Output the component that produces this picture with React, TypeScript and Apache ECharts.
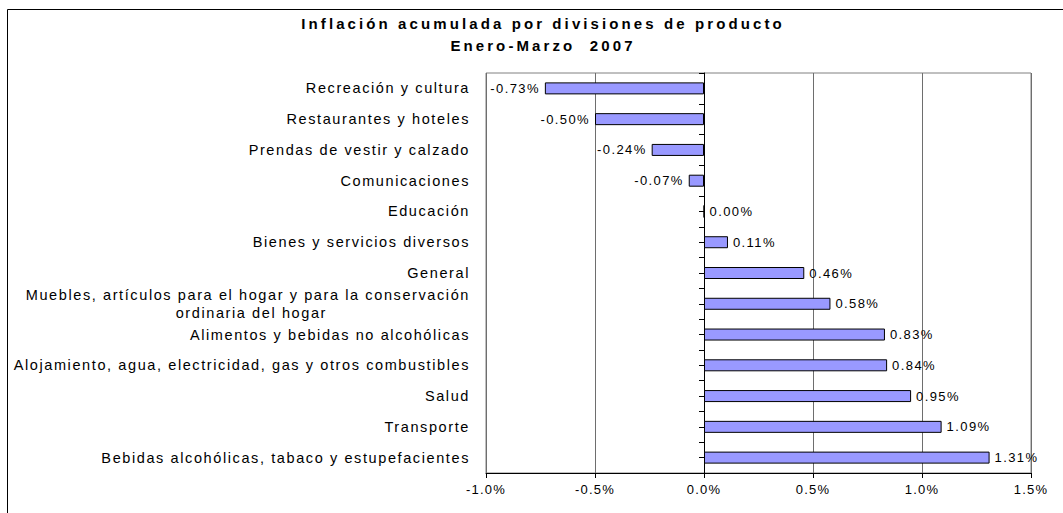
import React, { useEffect, useRef } from "react";
import * as echarts from "echarts";

const FONT = "'Liberation Sans', Arial, sans-serif";

const titleLines = ["Inflación acumulada por divisiones de producto", "Enero-Marzo  2007"];

const MUEBLES = "Muebles, artículos para el hogar y para la conservación ordinaria del hogar";

const categories = [
  "Recreación y cultura",
  "Restaurantes y hoteles",
  "Prendas de vestir y calzado",
  "Comunicaciones",
  "Educación",
  "Bienes y servicios diversos",
  "General",
  MUEBLES,
  "Alimentos y bebidas no alcohólicas",
  "Alojamiento, agua, electricidad, gas y otros combustibles",
  "Salud",
  "Transporte",
  "Bebidas alcohólicas, tabaco y estupefacientes",
];

const values = [-0.73, -0.5, -0.24, -0.07, 0.0, 0.11, 0.46, 0.58, 0.83, 0.84, 0.95, 1.09, 1.31];

const xMin = -1.0;
const xMax = 1.5;
const xStep = 0.5;

function applySpacing(el: HTMLElement) {
  el.querySelectorAll("text").forEach((t) => {
    const s = (t.textContent || "").trim();
    let ls = 1.6;
    if (s.startsWith("Inflación") || s.startsWith("Enero")) ls = 3.1;
    else if (/^-?\d\.\d\d%$/.test(s)) ls = 1.4;
    else if (/^-?\d\.\d%$/.test(s)) ls = 1.2;
    t.setAttribute("letter-spacing", ls + "px");
  });
}

export default function App() {
  const ref = useRef<HTMLDivElement>(null);

  useEffect(() => {
    const el = ref.current!;
    const chart = echarts.init(el, null, { renderer: "svg" });

    const tickAxisBase = {
      type: "category",
      data: categories,
      inverse: true,
      position: "left",
      offset: -218,
      axisLabel: { show: false },
      splitLine: { show: false },
    };

    chart.setOption({
      animation: false,
      graphic: [
        {
          type: "rect",
          shape: { x: 7.5, y: 9.5, width: 1100, height: 600 },
          style: { fill: "none", stroke: "#000", lineWidth: 1 },
          silent: true,
        },
        {
          type: "text",
          x: 543,
          y: 23,
          style: {
            text: titleLines[0],
            fontFamily: FONT,
            fontSize: 15,
            fontWeight: "bold",
            fill: "#000",
            align: "center",
            verticalAlign: "middle",
          },
        },
        {
          type: "text",
          x: 543,
          y: 45,
          style: {
            text: titleLines[1],
            fontFamily: FONT,
            fontSize: 15,
            fontWeight: "bold",
            fill: "#000",
            align: "center",
            verticalAlign: "middle",
          },
        },
      ],
      grid: {
        left: 486,
        right: 32,
        top: 73,
        bottom: 40,
        show: true,
        borderColor: "#808080",
        borderWidth: 1,
        backgroundColor: "transparent",
      },
      xAxis: {
        type: "value",
        min: xMin,
        max: xMax,
        interval: xStep,
        axisLine: { show: true, onZero: false, lineStyle: { color: "#000", width: 1 } },
        axisTick: { show: true, length: 5, lineStyle: { color: "#000" } },
        axisLabel: {
          formatter: (v: number) => v.toFixed(1) + "%",
          margin: 10,
          fontSize: 13,
          fontFamily: FONT,
          color: "#000",
        },
        splitLine: { show: true, lineStyle: { color: "#6e6e6e", width: 1 } },
      },
      yAxis: [
        {
          type: "category",
          data: categories,
          inverse: true,
          axisLine: { show: false },
          axisTick: { show: false },
          splitLine: { show: false },
          axisLabel: {
            interval: 0,
            margin: 16,
            fontSize: 14.5,
            fontFamily: FONT,
            color: "#000",
            formatter: (v: string) =>
              v === MUEBLES
                ? "{a|Muebles, artículos para el hogar y para la conservación}\n{b|ordinaria del hogar}"
                : v,
            rich: {
              a: { fontSize: 14.5, fontFamily: FONT, color: "#000", lineHeight: 18 },
              b: { fontSize: 14.5, fontFamily: FONT, color: "#000", lineHeight: 18, padding: [0, 143, 0, 0] },
            },
          },
        },
        {
          ...tickAxisBase,
          axisLine: { show: true, onZero: false, lineStyle: { color: "#000", width: 1 } },
          axisTick: { show: true, length: 5, lineStyle: { color: "#000" } },
        },
        {
          ...tickAxisBase,
          axisLine: { show: false },
          axisTick: { show: true, alignWithLabel: true, length: 5, lineStyle: { color: "#000" } },
        },
      ],
      series: [
        {
          type: "bar",
          yAxisIndex: 0,
          barWidth: 12,
          data: values.map((v) => ({
            value: v,
            label: { position: v < 0 ? "left" : "right" },
          })),
          itemStyle: { color: "#9999FF", borderColor: "#000", borderWidth: 1 },
          label: {
            show: true,
            distance: 5,
            fontSize: 13,
            fontFamily: FONT,
            color: "#000",
            formatter: (p: any) => Number(p.value).toFixed(2) + "%",
          },
        },
      ],
    });

    applySpacing(el);
    const onFinished = () => applySpacing(el);
    chart.on("finished", onFinished);
    const raf = requestAnimationFrame(() => applySpacing(el));

    return () => {
      cancelAnimationFrame(raf);
      chart.off("finished", onFinished);
      chart.dispose();
    };
  }, []);

  return (
    <div
      ref={ref}
      style={{ position: "absolute", left: 0, top: 0, width: 1063, height: 513, background: "#fff" }}
    />
  );
}
